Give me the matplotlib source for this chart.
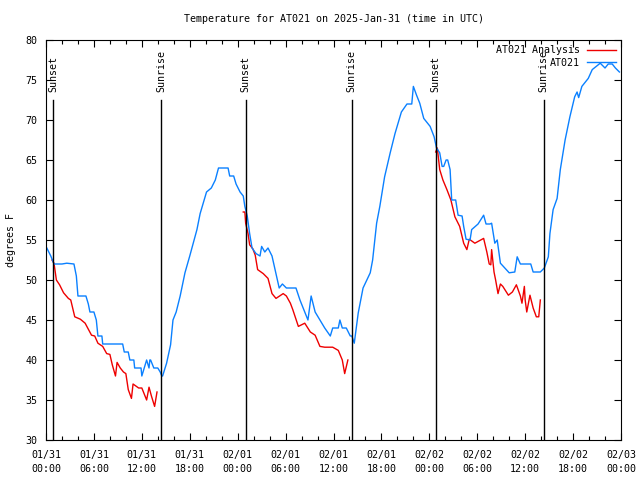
import numpy as np
import matplotlib
matplotlib.use("Agg")
import matplotlib.pyplot as plt

# hours since 2025-01-31 00:00 UTC
obs_hours = [0.1, 0.6, 1.0, 2.0, 2.6, 3.5, 3.8, 4.0, 5.0, 5.3, 5.5, 6.0, 6.3, 6.4, 6.5, 7.0,
             7.1, 9.6, 9.8, 10.3, 10.5, 11.0, 11.1, 11.9, 12.0, 12.3, 12.6, 12.9, 13.0, 13.1,
             13.5, 14.0, 14.3, 14.5, 14.6, 15.1, 15.6, 15.9, 16.3, 16.8, 17.4, 18.0, 18.7,
             18.9, 19.3, 20.1, 20.7, 21.2, 21.6, 22.8, 23.0, 23.5, 23.8, 24.3, 24.7, 24.9,
             25.2, 25.5, 25.8, 26.3, 26.8, 27.0, 27.4, 27.8, 28.3, 28.8, 29.2, 29.6, 30.1,
             31.3, 31.8, 32.4, 32.8, 33.2, 33.7, 34.3, 34.9, 35.6, 35.9, 36.6, 36.8, 37.1,
             37.6, 38.1, 38.3, 38.6, 39.1, 39.7, 40.6, 40.9, 41.4, 41.8, 42.4, 43.1, 43.7,
             44.5, 45.2, 45.8, 46.0, 46.4, 46.8, 47.3, 48.1, 48.6, 48.9, 49.3, 49.6, 49.8,
             50.1, 50.3, 50.6, 50.8, 51.3, 51.6, 52.1, 52.3, 52.6, 53.1, 53.3, 54.1, 54.8,
             55.1, 55.6, 55.8, 56.2, 56.5, 56.9, 58.0, 58.7, 59.0, 59.4, 60.7, 61.0, 61.9,
             62.4, 62.9, 63.1, 63.5, 64.0, 64.4, 65.0, 65.6, 66.2, 66.5, 66.7, 67.1, 67.9,
             68.4, 69.4, 70.0, 70.4, 70.9, 71.3, 71.8]
obs_temp = [54.0, 53.0, 52.0, 52.0, 52.1, 52.0, 50.5, 48.0, 48.0, 47.0, 46.0, 46.0, 45.0, 44.0,
            43.0, 43.0, 42.0, 42.0, 41.0, 41.0, 40.0, 40.0, 39.0, 39.0, 38.0, 39.0, 40.0, 39.0,
            40.0, 40.0, 39.0, 39.0, 38.5, 38.0, 38.0, 39.6, 41.9, 45.0, 46.0, 48.0, 50.9, 53.0,
            55.6, 56.3, 58.3, 61.0, 61.5, 62.5, 64.0, 64.0, 63.0, 63.0, 62.0, 61.0, 60.5, 59.2,
            58.0, 55.8, 54.0, 53.3, 53.0, 54.2, 53.5, 54.0, 53.0, 50.8, 49.0, 49.5, 49.0, 49.0,
            47.5, 46.0, 45.0, 48.0, 46.0, 45.0, 44.0, 43.0, 44.0, 44.0, 45.0, 44.0, 44.0, 43.0,
            43.0, 42.1, 45.9, 49.0, 50.9, 52.5, 57.1, 59.2, 62.9, 65.9, 68.3, 71.0, 72.0, 72.0,
            74.2, 73.1, 72.1, 70.2, 69.2, 67.9, 66.5, 65.9, 64.2, 64.2, 65.0, 65.0, 63.8, 60.0,
            60.0, 58.1, 58.0, 56.7, 55.1, 55.0, 56.3, 57.0, 58.1, 57.0, 57.0, 57.1, 54.6, 55.0,
            52.1, 50.9, 51.0, 52.9, 52.0, 52.0, 51.0, 51.0, 51.5, 52.9, 55.8, 58.8, 60.2, 63.8,
            67.5, 70.4, 72.9, 73.5, 72.8, 74.2, 75.2, 76.3, 77.1, 76.5, 77.0, 77.0, 76.5, 76.0]

# analysis runs overnight only, gaps as NaN
ana_hours = [0.75, 1.0, 1.3, 1.7, 2.2, 2.8, 3.1, 3.6, 4.3, 4.9, 5.7, 6.1, 6.5, 7.1, 7.6, 8.0,
             8.3, 8.7, 8.9, 9.3, 9.7, 10.0, 10.3, 10.7, 10.9, 11.6, 12.0, 12.2, 12.6, 12.9,
             13.2, 13.6, 13.9, 14.0,
             24.7, 24.9, 25.0, 25.3, 25.5, 25.9, 26.2, 26.5, 27.2, 27.8, 28.3, 28.8, 29.7,
             30.1, 30.6, 30.9, 31.6, 32.4, 33.1, 33.7, 34.3, 34.9, 35.9, 36.6, 37.1, 37.4,
             37.8, 38.0,
             48.8, 49.0, 49.3, 49.7, 50.2, 50.7, 51.2, 51.8, 52.3, 52.7, 53.0, 53.7, 54.8,
             55.2, 55.5, 55.7, 55.8, 56.1, 56.3, 56.6, 56.9, 57.2, 57.9, 58.4, 58.9, 59.4,
             59.6, 59.9, 60.0, 60.2, 60.6, 61.0, 61.4, 61.7, 61.9]
ana_temp = [52.5, 52.1, 50.0, 49.4, 48.4, 47.7, 47.5, 45.4, 45.1, 44.6, 43.1, 43.0, 42.1, 41.7,
            40.8, 40.7, 39.4, 38.0, 39.7, 39.0, 38.5, 38.3, 36.3, 35.2, 37.0, 36.5, 36.5, 36.0,
            35.0, 36.6, 35.5, 34.2, 36.0, np.nan,
            58.5, 58.5, 57.1, 55.8, 54.4, 53.9, 53.1, 51.3, 50.8, 50.2, 48.3, 47.7, 48.3,
            48.0, 47.1, 46.3, 44.2, 44.6, 43.5, 43.1, 41.7, 41.6, 41.6, 41.2, 40.0, 38.3,
            40.0, np.nan,
            66.0, 66.5, 63.8, 62.5, 61.3, 60.0, 57.9, 56.7, 54.6, 53.8, 55.1, 54.6, 55.2,
            53.5, 52.0, 51.9, 53.8, 51.0, 50.0, 48.3, 49.5, 49.2, 48.1, 48.5, 49.4, 48.0,
            47.1, 49.2, 47.5, 46.0, 48.1, 46.5, 45.4, 45.4, 47.5]

sun_hours = [0.9, 14.4, 25.0, 38.3, 48.8, 62.3]
sun_labels = ["Sunset", "Sunrise", "Sunset", "Sunrise", "Sunset", "Sunrise"]

tick_hours = list(range(0, 73, 6))
tick_labels = ["01/31\n00:00", "01/31\n06:00", "01/31\n12:00", "01/31\n18:00",
               "02/01\n00:00", "02/01\n06:00", "02/01\n12:00", "02/01\n18:00",
               "02/02\n00:00", "02/02\n06:00", "02/02\n12:00", "02/02\n18:00",
               "02/03\n00:00"]

plt.rcParams['font.family'] = ['DejaVu Sans Mono']
plt.rcParams['font.size'] = 7.2

fig = plt.figure(figsize=(6.4, 4.8), dpi=100)
ax = fig.add_axes([46 / 640, 40 / 480, 575 / 640, 400 / 480])

ax.plot(ana_hours, ana_temp, color='#ee0000', lw=1, label='AT021 Analysis')
ax.plot(obs_hours, obs_temp, color='#0a80ff', lw=1, label='AT021')

for h, lab in zip(sun_hours, sun_labels):
    ax.plot([h, h], [30, 72.5], color='black', lw=1)
    ax.text(h, 73.5, lab, rotation=90, ha='center', va='bottom')

ax.set_xlim(0, 72)
ax.set_ylim(30, 80)
ax.set_xticks(tick_hours)
ax.set_xticklabels(tick_labels, linespacing=1.55)
ax.set_xticks(range(0, 73, 2), minor=True)
ax.set_yticks(range(30, 81, 5))
ax.tick_params(which='both', direction='in', top=True, right=True, width=0.8)
ax.tick_params(which='major', length=5)
ax.tick_params(which='minor', length=3)
ax.tick_params(axis='x', which='major', pad=7)
ax.tick_params(axis='y', which='major', pad=6)
for s in ax.spines.values():
    s.set_linewidth(0.8)

ax.set_ylabel('degrees F', labelpad=7)
ax.set_title('Temperature for AT021 on 2025-Jan-31 (time in UTC)', fontsize=7.2, pad=13)
ax.legend(loc='upper right', frameon=False, markerfirst=False, handlelength=2.9,
          handletextpad=0.7, borderaxespad=0.25, borderpad=0.3, labelspacing=0.25)

fig.savefig('out.png', dpi=100)
